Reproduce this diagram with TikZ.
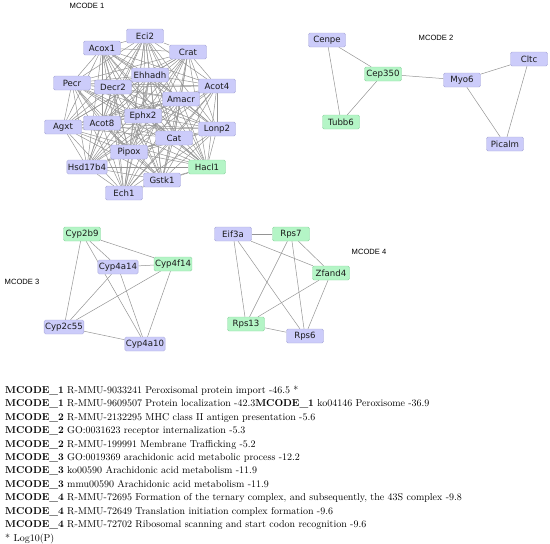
\documentclass[tikz,border=0pt]{standalone}
\usepackage{fontspec}
\usetikzlibrary{backgrounds}
\newfontfamily\genefont{DejaVu Sans}
\newfontfamily\labelfont{Liberation Sans}
\definecolor{mcodeBlue}{HTML}{CCCCFA}
\definecolor{mcodeBlueLine}{HTML}{A9A9D9}
\definecolor{mcodeGreen}{HTML}{B4F5C6}
\definecolor{mcodeGreenLine}{HTML}{8ED6A2}
\definecolor{edgeGray}{HTML}{949494}
\definecolor{textDark}{HTML}{1A1A1A}

\begin{document}
\begin{tikzpicture}[x=1pt, y=-1pt,
        gene/.style={rectangle, rounded corners=1.5pt,
          minimum width=37pt, minimum height=14pt, inner xsep=1pt, inner ysep=1pt,
          font=\genefont\fontsize{8.6}{10}\selectfont, text=textDark,
          fill=mcodeBlue, draw=mcodeBlueLine, line width=0.4pt},
        hit/.style={gene, fill=mcodeGreen, draw=mcodeGreenLine},
        cluster/.style={font=\labelfont\fontsize{7.6}{9}\selectfont, inner sep=0pt},
        link/.style={draw=edgeGray, line width=0.5pt}
      ]
        \useasboundingbox (0,0) rectangle (550,544);

        % MCODE 1
        \node[cluster] (lab1) at (87,6) {MCODE 1};
        \node[gene] (Eci2)    at (145,36)  {Eci2};
        \node[gene] (Acox1)   at (102,48)  {Acox1};
        \node[gene] (Crat)    at (188,52)  {Crat};
        \node[gene] (Ehhadh)  at (150,75)  {Ehhadh};
        \node[gene] (Pecr)    at (72,83)   {Pecr};
        \node[gene] (Decr2)   at (113,87)  {Decr2};
        \node[gene] (Acot4)   at (217,86)  {Acot4};
        \node[gene] (Amacr)   at (181,99)  {Amacr};
        \node[gene] (Ephx2)   at (143,116) {Ephx2};
        \node[gene] (Agxt)    at (63,127)  {Agxt};
        \node[gene] (Acot8)   at (102,123) {Acot8};
        \node[gene] (Lonp2)   at (217,129) {Lonp2};
        \node[gene] (Cat)     at (174,138) {Cat};
        \node[gene] (Pipox)   at (129,152) {Pipox};
        \node[gene] (Hsd17b4) at (87,167)  {Hsd17b4};
        \node[hit]  (Hacl1)   at (207,167) {Hacl1};
        \node[gene] (Gstk1)   at (162,180) {Gstk1};
        \node[gene] (Ech1)    at (124,193) {Ech1};

        % MCODE 2
        \node[cluster] (lab2) at (436,38) {MCODE 2};
        \node[gene] (Cenpe)  at (327,40)  {Cenpe};
        \node[hit]  (Cep350) at (383,74)  {Cep350};
        \node[gene] (Myo6)   at (462,80)  {Myo6};
        \node[gene] (Cltc)   at (529,59)  {Cltc};
        \node[hit]  (Tubb6)  at (341,122) {Tubb6};
        \node[gene] (Picalm) at (505,144) {Picalm};

        % MCODE 3
        \node[cluster] (lab3) at (22,282) {MCODE 3};
        \node[hit]  (Cyp2b9)  at (82,234)  {Cyp2b9};
        \node[gene] (Cyp4a14) at (118,267) {Cyp4a14};
        \node[hit]  (Cyp4f14) at (173,264) {Cyp4f14};
        \node[gene] (Cyp2c55) at (64,327)  {Cyp2c55};
        \node[gene] (Cyp4a10) at (145,344) {Cyp4a10};

        % MCODE 4
        \node[cluster] (lab4) at (369,252) {MCODE 4};
        \node[gene] (Eif3a)  at (233,234) {Eif3a};
        \node[hit]  (Rps7)   at (291,234) {Rps7};
        \node[hit]  (Zfand4) at (331,273) {Zfand4};
        \node[hit]  (Rps13)  at (246,324) {Rps13};
        \node[gene] (Rps6)   at (305,336) {Rps6};

        \begin{scope}[on background layer]
          % dense cluster: every pair linked
          \foreach \a [count=\i] in {Eci2,Acox1,Crat,Ehhadh,Pecr,Decr2,Acot4,Amacr,Ephx2,
              Agxt,Acot8,Lonp2,Cat,Pipox,Hsd17b4,Hacl1,Gstk1,Ech1}
            \foreach \b [count=\j] in {Eci2,Acox1,Crat,Ehhadh,Pecr,Decr2,Acot4,Amacr,Ephx2,
                Agxt,Acot8,Lonp2,Cat,Pipox,Hsd17b4,Hacl1,Gstk1,Ech1}
              {\ifnum\j>\i \draw[link] (\a) -- (\b); \fi}
          \foreach \a/\b in {Cenpe/Cep350, Cenpe/Tubb6, Cep350/Tubb6, Cep350/Myo6,
              Myo6/Cltc, Myo6/Picalm, Cltc/Picalm}
            \draw[link] (\a) -- (\b);
          \foreach \a [count=\i] in {Cyp2b9,Cyp4a14,Cyp4f14,Cyp2c55,Cyp4a10}
            \foreach \b [count=\j] in {Cyp2b9,Cyp4a14,Cyp4f14,Cyp2c55,Cyp4a10}
              {\ifnum\j>\i \draw[link] (\a) -- (\b); \fi}
          \foreach \a [count=\i] in {Eif3a,Rps7,Zfand4,Rps13,Rps6}
            \foreach \b [count=\j] in {Eif3a,Rps7,Zfand4,Rps13,Rps6}
              {\ifnum\j>\i \draw[link] (\a) -- (\b); \fi}
        \end{scope}

        % enrichment list
        \node[anchor=north west, align=left, inner sep=0pt,
          font=\fontsize{10}{13.45}\selectfont] (terms) at (5,385.5) {%
          \textbf{MCODE\_1} R-MMU-9033241 Peroxisomal protein import -46.5 *\\
          \textbf{MCODE\_1} R-MMU-9609507 Protein localization -42.3\textbf{MCODE\_1} ko04146 Peroxisome -36.9\\
          \textbf{MCODE\_2} R-MMU-2132295 MHC class II antigen presentation -5.6\\
          \textbf{MCODE\_2} GO:0031623 receptor internalization -5.3\\
          \textbf{MCODE\_2} R-MMU-199991 Membrane Trafficking -5.2\\
          \textbf{MCODE\_3} GO:0019369 arachidonic acid metabolic process -12.2\\
          \textbf{MCODE\_3} ko00590 Arachidonic acid metabolism -11.9\\
          \textbf{MCODE\_3} mmu00590 Arachidonic acid metabolism -11.9\\
          \textbf{MCODE\_4} R-MMU-72695 Formation of the ternary complex, and subsequently, the 43S complex -9.8\\
          \textbf{MCODE\_4} R-MMU-72649 Translation initiation complex formation -9.6\\
          \textbf{MCODE\_4} R-MMU-72702 Ribosomal scanning and start codon recognition -9.6\\
          * Log10(P)};
      \end{tikzpicture}
\end{document}
